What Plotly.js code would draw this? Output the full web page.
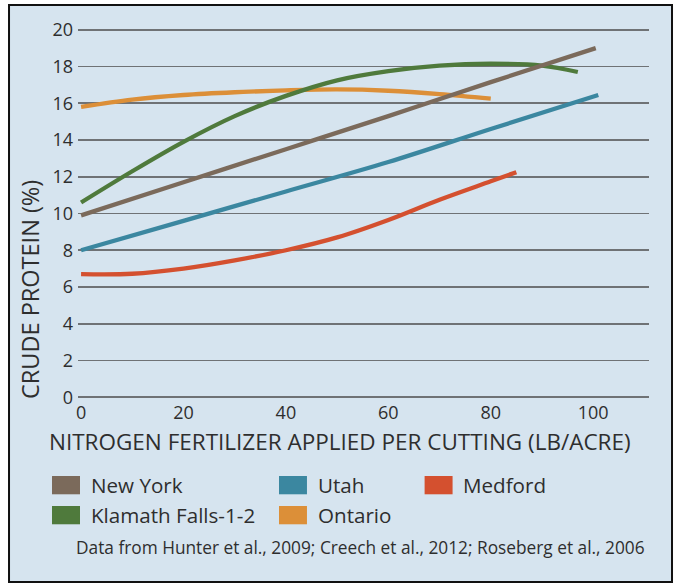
<!DOCTYPE html>
<html>
<head>
<meta charset="utf-8">
<script src="https://cdn.plot.ly/plotly-3.0.1.min.js"></script>
<style>html,body{margin:0;padding:0;background:#fff;}#chart{width:677px;height:587px;}</style>
</head>
<body>
<div id="chart"></div>
<script>
// ---- data ----
var seriesNames = ["New York", "Utah", "Medford", "Klamath Falls-1-2", "Ontario"];
var seriesColors = ["#7b6a5b", "#3b87a0", "#d4502f", "#4f7a3c", "#dc8f38"];

var newYorkX = [0, 20, 40, 60, 80, 100.5];
var newYorkY = [9.9, 11.7, 13.5, 15.3, 17.15, 19.0];

var utahX = [0, 20, 40, 60, 80, 101];
var utahY = [8.0, 9.6, 11.2, 12.8, 14.6, 16.45];

var medfordX = [0, 10, 20, 30, 40, 50, 60, 70, 80, 85];
var medfordY = [6.7, 6.72, 7.0, 7.45, 8.0, 8.7, 9.65, 10.75, 11.75, 12.25];

var klamathX = [0, 10, 20, 30, 40, 50, 60, 70, 80, 90, 97];
var klamathY = [10.6, 12.3, 13.9, 15.3, 16.4, 17.25, 17.75, 18.05, 18.15, 18.05, 17.7];

var ontarioX = [0, 10, 20, 30, 40, 50, 60, 70, 80];
var ontarioY = [15.8, 16.2, 16.45, 16.6, 16.7, 16.75, 16.68, 16.5, 16.25];

var xTickVals = [0, 20, 40, 60, 80, 100];
var yTickVals = [0, 2, 4, 6, 8, 10, 12, 14, 16, 18, 20];

var xTitle = "NITROGEN FERTILIZER APPLIED PER CUTTING (LB/ACRE)";
var yTitle = "CRUDE PROTEIN (%)";
var footnote = "Data from Hunter et al., 2009; Creech et al., 2012; Roseberg et al., 2006";

// ---- build ----
var xs = [newYorkX, utahX, medfordX, klamathX, ontarioX];
var ys = [newYorkY, utahY, medfordY, klamathY, ontarioY];

var FONT = "'Open Sans', 'Noto Sans', sans-serif";
var TXT = "#2e2e2e";
var traces = seriesNames.map(function (n, i) {
  return {
    type: "scatter", mode: "lines", name: n,
    x: xs[i], y: ys[i],
    line: {color: seriesColors[i], width: 4.3, shape: "spline", smoothing: 1},
    showlegend: false, hoverinfo: "x+y+name"
  };
});
var order = [4, 3, 2, 1, 0];
var drawTraces = order.map(function (i) { return traces[i]; });

// legend layout (grid cells: column, row)
var legendCells = [[0, 0], [1, 0], [2, 0], [0, 1], [1, 1]];
var colSwatchX = [-0.0455, 0.352, 0.607];
var swatchW = 0.049;
var rowTop = [-0.2038, -0.2842];
var swatchH = 0.049;
var textGap = 0.0155;

var shapes = [{
  type: "rect", xref: "paper", yref: "paper",
  x0: -0.1208, x1: 1.0403, y0: -0.488, y1: 1.059,
  fillcolor: "#d6e4ef", line: {color: "#111", width: 2}, layer: "below"
}];
var annotations = [
  {xref: "paper", yref: "paper", x: 0.459, y: -0.111, text: xTitle, showarrow: false,
   xanchor: "center", yanchor: "middle", font: {family: FONT, size: 22.5, color: TXT}},
  {xref: "paper", yref: "paper", x: -0.084, y: 0.295, text: yTitle, showarrow: false, textangle: -90,
   xanchor: "center", yanchor: "middle", font: {family: FONT, size: 23.5, color: TXT}},
  {xref: "paper", yref: "paper", x: 0.4956, y: -0.396, text: footnote, showarrow: false,
   xanchor: "center", yanchor: "middle", font: {family: FONT, size: 17.3, color: TXT}}
];
seriesNames.forEach(function (n, i) {
  var c = legendCells[i][0], r = legendCells[i][1];
  shapes.push({
    type: "rect", xref: "paper", yref: "paper",
    x0: colSwatchX[c], x1: colSwatchX[c] + swatchW,
    y0: rowTop[r] - swatchH, y1: rowTop[r],
    fillcolor: seriesColors[i], line: {width: 0}
  });
  annotations.push({
    xref: "paper", yref: "paper", x: colSwatchX[c] + swatchW + textGap, y: rowTop[r] - swatchH / 2,
    text: n, showarrow: false, xanchor: "left", yanchor: "middle",
    font: {family: FONT, size: 20.6, color: TXT}
  });
});

var layout = {
  width: 677, height: 587,
  margin: {l: 78, r: 28, t: 27, b: 187, pad: 0},
  paper_bgcolor: "#ffffff",
  plot_bgcolor: "rgba(0,0,0,0)",
  showlegend: false,
  font: {family: FONT, color: TXT},
  xaxis: {
    range: [-0.6, 110.9], tickvals: xTickVals, showgrid: false, zeroline: false,
    showline: false, ticks: "", tickfont: {family: FONT, size: 18, color: TXT}
  },
  yaxis: {
    range: [-0.15, 20.15], tickvals: yTickVals, showgrid: true, gridcolor: "#6f7275",
    gridwidth: 1.6, zeroline: false, showline: false, ticks: "",
    ticklabelstandoff: 4,
    tickfont: {family: FONT, size: 18, color: TXT}
  },
  shapes: shapes,
  annotations: annotations
};

Plotly.newPlot("chart", drawTraces, layout, {displayModeBar: false, staticPlot: true});
</script>
</body>
</html>
